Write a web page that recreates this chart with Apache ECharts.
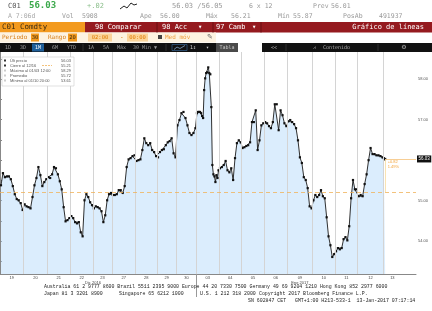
<!DOCTYPE html>
<html><head><meta charset="utf-8">
<script src="https://cdn.jsdelivr.net/npm/echarts@6/dist/echarts.min.js"></script>
<style>html,body{margin:0;padding:0;background:#fff}#c{width:432px;height:311px}</style>
</head><body><div id="c"></div>
<script>
// ---- data ----
const dayLabels = ['19','20','21','22','23','27','28','29','30','03','04','05','06','09','10','11','12','13'];
// width of each trading session in 30-min bars, and bars elapsed (last day in progress)
const dayBars     = [45,45,44,43,36,45,41,37,38,43,43,43,44,48,43,43,49,34];
const elapsedBars = [45,45,44,43,36,45,41,37,38,43,43,43,44,48,43,43,49,4];
const monthLabels = ['Dic 2016','Ene 2017'];
const monthAnchor = [4, 13.5];           // in session-slot units
const yearBreakDay = 9;                  // first session of 2017
const d19 = [55.38,55.68,55.58,55.60,55.60,55.53,55.36,55.16,55.04,55.01,54.94,54.77];
const d20 = [54.91,54.86,54.84,54.81,55.09,55.38,55.56,55.83,55.63,55.36,55.46,55.53];
const d21 = [55.58,55.56,55.65,55.83,55.80,55.65,55.48,55.28,54.84,54.49,54.52,54.57];
const d22 = [54.62,54.57,54.47,54.44,54.47,54.22,54.12,55.01,55.16,55.09,54.96,54.89];
const d23 = [54.81,54.86,54.84,54.81,54.74,54.47,54.64,55.01,55.16,55.19];
const d27 = [55.14,55.14,55.16,55.26,55.26,55.19,55.36,55.83,56.02,56.05,56.10,56.12];
const d28 = [55.98,56.00,56.02,56.25,56.54,56.42,56.37,56.42,56.25,56.20,56.10];
const d29 = [56.07,56.20,56.25,56.27,56.37,56.44,56.47,56.54,56.17,56.07];
const d30 = [56.86,56.99,57.16,57.19,57.04,56.86,56.67,56.62,56.67,56.79];
const j03 = [57.16,57.19,57.19,57.19,57.16,57.09,57.04,57.73,58.02,58.15,58.17,58.29,58.15,58.12,57.31,55.88,55.65,55.60,55.46,55.63,55.56,55.75];
const j04 = [55.80,55.83,55.88,55.98,55.75,55.70,55.80,55.51,56.05,56.42,56.49,56.44];
const j05 = [56.30,56.32,56.35,56.37,56.44,56.94,56.94,57.23,56.25,56.49,56.86,56.91];
const j06 = [56.94,56.91,56.84,56.79,56.94,57.38,57.38,56.74,57.23,57.11,56.91,56.84];
const j09 = [56.96,56.99,56.94,56.89,56.79,56.49,56.07,55.93,55.58,55.51,55.31,54.86,54.81];
const j10 = [55.01,55.14,55.09,55.14,55.26,55.11,55.06,54.59,54.12,53.90,53.61,53.68];
const j11 = [53.75,53.83,53.80,53.83,54.05,54.10,54.02,54.37,55.06,55.51,55.28,55.28];
const j12 = [55.11,55.14,55.11,55.41,55.65,56.00,56.30,56.15,56.15,56.12,56.12,56.10,56.07];
const j13 = [56.05,56.02,56.03];
const sessions = [d19,d20,d21,d22,d23,d27,d28,d29,d30,j03,j04,j05,j06,j09,j10,j11,j12,j13];
const lastPrice = 56.03;
const prevClose = 55.21;
const yLabelValues = [54,55,56,57,58];
const yTickValues = [53.5,54,54.5,55,55.5,56,56.5,57,57.5,58,58.5];
const yMin = 53.19, yMax = 58.67;

// ---- derived ----
const dayStart = []; let acc = 0;
dayBars.forEach(b => { dayStart.push(acc); acc += b; });
const xMax = acc + 28;
const centers = dayBars.map((b,i) => dayStart[i] + b/2);
const points = [];
sessions.forEach((vals,i) => {
  const n = vals.length;
  vals.forEach((v,j) => points.push([dayStart[i] + (j+0.5)*elapsedBars[i]/n, v]));
});
const lastX = points[points.length-1][0];
const monthPos = monthAnchor.map(a => { const i = Math.floor(a); return dayStart[i] + (a-i)*dayBars[i]; });
const diff = lastPrice - prevClose;
const pct = diff/prevClose*100;

// ---- header / decorations ----
const G = [];
const MONO = 'DejaVu Sans Mono', SANS = 'Liberation Sans', LMONO = 'Liberation Mono';
function T(x,y,text,size,fill,extra){ G.push({type:'text',x:x,y:y,z:101,silent:true,style:Object.assign({text:text,fontSize:size,fontFamily:MONO,fill:fill,verticalAlign:'middle',align:'left'},extra||{})}); }
function R(x,y,w,h,fill,stroke,z){ G.push({type:'rect',z:z||99,silent:true,shape:{x:x,y:y,width:w,height:h},style:{fill:fill,stroke:stroke||null,lineWidth:stroke?0.6:0}}); }
function L(x1,y1,x2,y2,stroke,w,dash){ G.push({type:'line',z:100,silent:true,shape:{x1:x1,y1:y1,x2:x2,y2:y2},style:{stroke:stroke,lineWidth:w||1,lineDash:dash||null}}); }

// row 1
T(8,6,'C01',7,'#555');
T(29,6,'56.03',9,'#3aa84a',{fontWeight:'bold'});
T(87,6,'+.02',7,'#8cbf8c');
G.push({type:'polyline',z:100,silent:true,shape:{points:[[120,9],[124,6],[127,8],[131,3],[134,5],[137,4]]},style:{stroke:'#222',lineWidth:1,fill:null}});
T(172,6,'56.03 /56.05',7,'#999');
T(249,6,'6 x 12',6.5,'#999');
T(313,6,'Prev',6.5,'#999'); T(331,6,'56.01',6.5,'#999');
// row 2
T(8,16.5,'A 7:06d',6.5,'#aaa');
T(62,16.5,'Vol',6.5,'#999'); T(82,16.5,'5908',6.5,'#999');
T(140,16.5,'Ape',6.5,'#999'); T(160,16.5,'56.00',6.5,'#999');
T(206,16.5,'Máx',6.5,'#999'); T(231,16.5,'56.21',6.5,'#999');
T(278,16.5,'Mín',6.5,'#999'); T(293,16.5,'55.87',6.5,'#999');
T(343,16.5,'PosAb',6.5,'#999'); T(379,16.5,'491937',6.5,'#999');
// row 3
R(0,22,85,10.5,'#f39a1e');
R(85,22,347,10.5,'#951a1f');
L(157,22,157,32.5,'#6a0f12',1); L(213,22,213,32.5,'#6a0f12',1); L(261,22,261,32.5,'#6a0f12',1);
T(2,27.3,'C01 Comdty',7.5,'#3a2a10');
T(95,27.3,'98 Comparar',7,'#fff');
T(162,27.3,'98 Acc',7,'#fff'); T(198,27.3,'▾',7,'#fff');
T(216,27.3,'97 Camb',7,'#fff'); T(252,27.3,'▾',7,'#fff');
T(424,27.3,'Gráfico de líneas',7,'#fff',{align:'right'});
// row 4
R(0,32.5,216,10,'#fdf3e1');
T(2,37.5,'Periodo',6,'#d9801a');
R(31,33.5,8,8,'#f39a1e'); T(35,37.5,'30',5.5,'#3a2a10',{align:'center'});
T(48,37.5,'Rango',6,'#d9801a');
R(68,33.5,9,8,'#f39a1e'); T(72.5,37.5,'20',5.5,'#3a2a10',{align:'center'});
R(88,33.5,24,8,'#fbd49a'); T(100,37.5,'02:00',5.5,'#e07b00',{align:'center'});
T(120,37.5,'-',6,'#e07b00');
R(127,33.5,21,8,'#fbd49a'); T(137.5,37.5,'00:00',5.5,'#e07b00',{align:'center'});
R(158,35,4,4,'#444');
T(165,37.5,'Med móv',6,'#f0a040');
T(207,37.5,'✎',7,'#666',{fontFamily:'DejaVu Sans'});
// row 5
R(0,43,216,9,'#111');
const tb = [['1D',5],['3D',20],['6M',52],['YTD',67],['1A',88],['5A',103],['Máx',117],['30 Min ▼',133]];
R(32,43.5,12,8,'#1f5f99'); T(38,47.5,'1M',5,'#fff',{align:'center'});
tb.forEach(t => T(t[1],47.5,t[0],5,'#9a9a9a'));
L(83,44,83,51,'#444',0.6); L(166,44,166,51,'#444',0.6);
R(172,44.5,15,6,null,'#3a6ea5');
G.push({type:'polyline',z:101,silent:true,shape:{points:[[174,49.5],[177,47],[180,48.5],[185,45.5]]},style:{stroke:'#8fb8e0',lineWidth:0.7,fill:null}});
T(190,47.5,'1↕',5,'#ccc'); T(206,47.5,'▾',5,'#ccc');
R(216,43,22,9,'#4a4a4a'); T(227,47.5,'Tabla',5,'#ccc',{align:'center'});
R(262,43,170,9,'#111');
T(271,47.5,'<<',5,'#aaa');
L(286,44,286,51,'#444',0.6); L(378,44,378,51,'#444',0.6);
T(313,47.5,'⩘',5,'#aaa',{fontFamily:'DejaVu Sans'});
T(323,47.5,'Contenido',5,'#aaa');
T(404,47.5,'⚙',6,'#aaa',{fontFamily:'DejaVu Sans',align:'center'});
// legend box
R(2,57,72,29,'#fff','#cccccc',110);
const lg = [['Últ precio','56.03'],['Cierre al 12/16','55.21'],['Máximo al 01/03 12:00','58.29'],['Promedio','55.72'],['Mínimo al 01/10 20:00','53.61']];
lg.forEach((r,i) => {
  const y = 60.5 + i*5;
  G.push({type:'text',x:10,y:y,z:112,silent:true,style:{text:r[0],fontSize:4,fontFamily:SANS,fill:'#555',verticalAlign:'middle'}});
  G.push({type:'text',x:71,y:y,z:112,silent:true,style:{text:r[1],fontSize:4,fontFamily:SANS,fill:'#555',verticalAlign:'middle',align:'right'}});
  G.push({type:'rect',z:112,silent:true,shape:{x:4,y:y-1,width:2,height:2},style:{fill:i<2?'#333':'#ccc'}});
});
G.push({type:'line',z:112,silent:true,shape:{x1:42,y1:65.5,x2:52,y2:65.5},style:{stroke:'#f0b25a',lineWidth:0.8,lineDash:[2,1]}});
// footer
T(44,287,'Australia 61 2 9777 8600 Brazil 5511 2395 9000 Europe 44 20 7330 7500 Germany 49 69 9204 1210 Hong Kong 852 2977 6000',4.9,'#222',{fontFamily:LMONO});
T(44,293.5,'Japan 81 3 3201 8900',4.9,'#222',{fontFamily:LMONO});
T(119,293.5,'Singapore 65 6212 1000',4.9,'#222',{fontFamily:LMONO});
T(200,293.5,'U.S. 1 212 318 2000',4.9,'#222',{fontFamily:LMONO});
T(259,293.5,'Copyright 2017 Bloomberg Finance L.P.',4.9,'#222',{fontFamily:LMONO});
T(248,301,'SN 602847 CET   GMT+1:00 H213-533-1  13-Jan-2017 07:17:14',4.9,'#222',{fontFamily:LMONO});

const chart = echarts.init(document.getElementById('c'), null, {renderer:'canvas'});
chart.setOption({
  animation:false,
  backgroundColor:'#fff',
  grid:{left:0,right:16,top:52,bottom:37,containLabel:false,outerBoundsMode:'none'},
  xAxis:[{
    type:'value', min:0, max:xMax,
    axisLine:{show:true,lineStyle:{color:'#888',width:1}},
    axisTick:{show:true,customValues:[dayStart[yearBreakDay]],length:23,lineStyle:{color:'#999',width:1}},
    axisLabel:{show:true,customValues:centers,margin:2,fontSize:4,color:'#444',fontFamily:SANS,
      formatter:function(v){const i=centers.findIndex(c=>Math.abs(c-v)<0.01);return i>=0?dayLabels[i]:'';}},
    splitLine:{show:false}
  },{
    type:'value', min:0, max:xMax, position:'bottom',
    axisLine:{show:false}, axisTick:{show:false}, splitLine:{show:false},
    axisLabel:{show:true,customValues:monthPos,margin:7,fontSize:4,color:'#444',fontFamily:SANS,
      formatter:function(v){const i=monthPos.findIndex(c=>Math.abs(c-v)<0.01);return i>=0?monthLabels[i]:'';}}
  }],
  yAxis:{
    type:'value', position:'right', min:yMin, max:yMax, scale:true,
    axisLine:{show:true,lineStyle:{color:'#888',width:1}},
    axisTick:{show:true,customValues:yTickValues,length:2,lineStyle:{color:'#888'}},
    axisLabel:{show:true,customValues:yLabelValues.filter(v=>Math.abs(v-lastPrice)>0.1),margin:2,fontSize:4,color:'#555',fontFamily:SANS,
      formatter:function(v){return v.toFixed(2);}},
    splitLine:{show:false}
  },
  series:[{
    type:'line', data:[], z:1, silent:true,
    markLine:{silent:true,symbol:['none','none'],label:{show:false},animation:false,
      lineStyle:{color:'#d4d4d4',width:1,type:'solid'},
      data:dayStart.slice(1).map(v=>({xAxis:v}))}
  },{
    type:'line', data:points, z:2, xAxisIndex:0,
    symbol:'rect', symbolSize:2.2, showAllSymbol:true,
    lineStyle:{color:'#1a1a1a',width:0.9},
    itemStyle:{color:'#111'},
    areaStyle:{color:'rgba(170,212,250,0.6)',origin:'start'},
    markLine:{silent:true,symbol:['none','none'],animation:false,
      data:[
        {yAxis:prevClose,label:{show:false},lineStyle:{color:'#f0b25a',width:0.8,type:[4,3]}},
        [{coord:[lastX,lastPrice],lineStyle:{color:'#f5c27a',width:0.8,type:'solid'},
          label:{show:true,position:'end',distance:1,formatter:lastPrice.toFixed(2),backgroundColor:'#111',color:'#fff',fontSize:4.5,fontFamily:SANS,padding:[1,1.5]}},
         {coord:[xMax,lastPrice]}],
        [{coord:[lastX,lastPrice],lineStyle:{color:'#f7dca0',width:0.8,type:'solid'},label:{show:false}},
         {coord:[lastX,prevClose]}]
      ]},
    markPoint:{silent:true,animation:false,
      data:[{coord:[lastX,lastPrice],symbol:'rect',symbolSize:1,itemStyle:{color:'rgba(0,0,0,0)'},
        label:{show:true,position:[3,1],formatter:'+'+diff.toFixed(2)+'\n'+pct.toFixed(2)+'%',color:'#f2a33a',fontSize:4,lineHeight:5,fontFamily:SANS}}]}
  }],
  graphic:{elements:G}
});
</script>
</body></html>
